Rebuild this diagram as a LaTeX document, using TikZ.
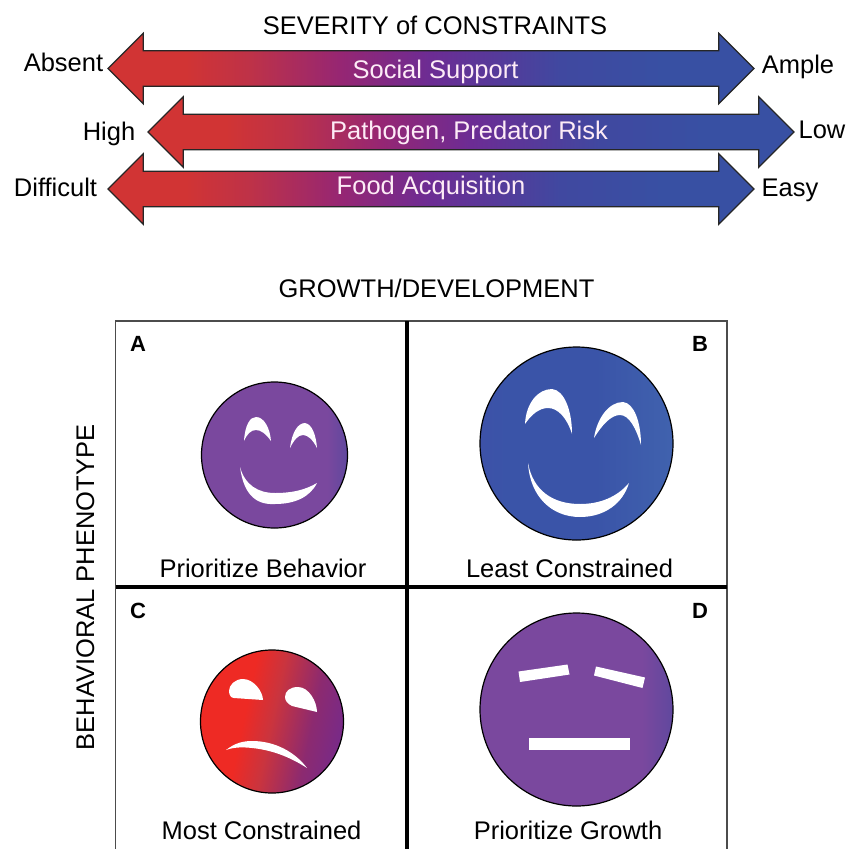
\documentclass[tikz,border=0pt]{standalone}
\usepackage{fontspec}
\setmainfont{Liberation Sans}
\usetikzlibrary{shapes.arrows}
\definecolor{arrowred}{RGB}{209,52,52}
\definecolor{arrowrose}{RGB}{190,50,72}
\definecolor{arrowplum}{RGB}{150,38,115}
\definecolor{arrowpurple}{RGB}{108,44,148}
\definecolor{arrowindigo}{RGB}{64,72,160}
\definecolor{arrowblue}{RGB}{56,80,163}
\definecolor{facepurple}{RGB}{122,72,158}
\definecolor{faceviolet}{RGB}{96,72,158}
\definecolor{faceindigo}{RGB}{72,72,168}
\definecolor{faceblue}{RGB}{58,84,168}
\definecolor{facesky}{RGB}{64,98,174}
\definecolor{facered}{RGB}{238,42,36}
\definecolor{facerose}{RGB}{202,52,62}
\definecolor{faceplum}{RGB}{140,42,112}
\definecolor{facegrape}{RGB}{120,42,136}
\pgfdeclarehorizontalshading{arrowgrad}{100bp}{color(0bp)=(arrowred);color(31bp)=(arrowred);color(36bp)=(arrowrose);color(43bp)=(arrowplum);color(50bp)=(arrowpurple);color(60bp)=(arrowindigo);color(68bp)=(arrowblue);color(100bp)=(arrowblue)}
\pgfdeclarehorizontalshading{shadeA}{100bp}{color(0bp)=(facepurple);color(68bp)=(facepurple);color(75bp)=(faceviolet);color(100bp)=(faceviolet)}
\pgfdeclarehorizontalshading{shadeB}{100bp}{color(0bp)=(faceindigo);color(32bp)=(faceblue);color(55bp)=(faceblue);color(75bp)=(facesky);color(100bp)=(facesky)}
\pgfdeclarehorizontalshading{shadeC}{100bp}{color(0bp)=(facered);color(40bp)=(facered);color(50bp)=(facerose);color(64bp)=(faceplum);color(75bp)=(facegrape);color(100bp)=(facegrape)}
\pgfdeclarehorizontalshading{shadeD}{100bp}{color(0bp)=(facepurple);color(67bp)=(facepurple);color(75bp)=(faceviolet);color(100bp)=(faceviolet)}
\begin{document}
\begin{tikzpicture}[
		x=1pt, y=-1pt,
		bigarrow/.style={double arrow, draw=black!85, line width=1.2pt, shading=arrowgrad, inner xsep=0pt, inner ysep=17.2pt, minimum height=646pt, double arrow head extend=17.5pt},
		face/.style={circle, draw=black, line width=1.2pt, inner sep=0pt},
		feat/.style={fill=white},
		lab/.style={anchor=base, font=\fontsize{25.5}{30}\selectfont},
		inlab/.style={lab, text=white!92!magenta},
		letter/.style={anchor=base, font=\fontsize{22}{26}\selectfont\bfseries}
		]
		\useasboundingbox (0,0) rectangle (849,849);
		
		% Heading and three arrows
		\node[lab] (severity) at (435,34) {SEVERITY of CONSTRAINTS};
		\node[bigarrow] (social) at (431,68.5) {};
		\node[bigarrow] (risk) at (471,132) {};
		\node[bigarrow] (food) at (431,189) {};
		
		\node[inlab] (sociallab) at (435.5,78) {Social Support};
		\node[inlab] (risklab) at (469,139) {Pathogen, Predator Risk};
		\node[inlab] (foodlab) at (431,194) {Food Acquisition};
		
		\node[lab] (absent) at (63.5,71) {Absent};
		\node[lab] (ample) at (798,73) {Ample};
		\node[lab] (high) at (109,140) {High};
		\node[lab] (low) at (822,138) {Low};
		\node[lab] (difficult) at (55.5,196) {Difficult};
		\node[lab] (easy) at (790,196) {Easy};
		
		% Panels
		\node[lab] (growth) at (436.5,297) {GROWTH/DEVELOPMENT};
		\node[lab, rotate=90] (behavior) at (94,587.5) {BEHAVIORAL PHENOTYPE};
		\draw[black!70, line width=1.8pt] (115.5,849) -- (115.5,321) -- (727,321) -- (727,849);
		\draw[black, line width=3.5pt] (407,321) -- (407,849);
		\draw[black, line width=3.5pt] (115.5,587) -- (727,587);
		
		\node[letter] (a) at (138,351.5) {A};
		\node[letter] (b) at (700,351.5) {B};
		\node[letter] (c) at (138,618) {C};
		\node[letter] (d) at (700,618) {D};
		
		% Panel A
		\node[face, shading=shadeA, minimum size=146pt] (faceA) at (274.5,455) {};
		\fill[feat] (244,441) .. controls (245,425) and (250,417) .. (256,417) .. controls (264,417) and (270,428) .. (271,441) .. controls (266,434) and (261,430) .. (256,430) .. controls (251,430) and (247,434) .. (244,441) -- cycle;
		\fill[feat] (290,448) .. controls (292,432) and (298,423) .. (305,423) .. controls (312,424) and (316,435) .. (317,448) .. controls (313,440) and (308,435) .. (303,435) .. controls (298,435) and (294,440) .. (290,448) -- cycle;
		\fill[feat] (240,467) .. controls (244,497) and (258,505) .. (275,504) .. controls (295,504) and (310,497) .. (317,483) .. controls (305,490) and (292,493) .. (275,493) .. controls (258,493) and (245,485) .. (240,467) -- cycle;
		\node[lab] (prbehavior) at (263,577) {Prioritize Behavior};
		
		% Panel B
		\node[face, shading=shadeB, minimum size=193pt] (faceB) at (576.5,443.5) {};
		\fill[feat] (525,424) .. controls (526,403) and (538,389) .. (552,389) .. controls (564,390) and (572,410) .. (572,434) .. controls (567,418) and (558,408) .. (548,408) .. controls (539,408) and (531,415) .. (525,424) -- cycle;
		\fill[feat] (594,438) .. controls (597,418) and (609,402) .. (623,402) .. controls (634,403) and (641,422) .. (641,445) .. controls (636,428) and (629,415) .. (620,415) .. controls (611,415) and (602,425) .. (594,438) -- cycle;
		\fill[feat] (528,463) .. controls (530,497) and (552,517) .. (580,517) .. controls (605,517) and (623,503) .. (629,483) .. controls (617,497) and (600,504) .. (580,504) .. controls (552,504) and (533,490) .. (528,463) -- cycle;
		\node[lab] (leastc) at (569.5,577) {Least Constrained};
		
		% Panel C
		\node[face, shading=shadeC, shading angle=-12, minimum size=143pt] (faceC) at (272,721.5) {};
		\fill[feat] (263,700) .. controls (263,692) and (254,679) .. (243,679) .. controls (235,679) and (229,685) .. (229,691) .. controls (229,695) and (231,698) .. (234,698) -- cycle;
		\fill[feat] (317,712) .. controls (317,702) and (309,687) .. (298,687) .. controls (290,687) and (285,691) .. (285,697) .. controls (285,701) and (288,704) .. (292,706) -- cycle;
		\fill[feat] (226,750) .. controls (235,743) and (243,741) .. (252,741) .. controls (275,741) and (295,752) .. (307,768) .. controls (290,757) and (272,750) .. (252,748) .. controls (243,747) and (234,747) .. (226,750) -- cycle;
		\node[lab] (mostc) at (261.5,839) {Most Constrained};
		
		% Panel D
		\node[face, shading=shadeD, minimum size=193pt] (faceD) at (576.5,709.5) {};
		\fill[feat] (518.5,671.5) -- (567.5,664.5) -- (569.5,674.5) -- (520,682) -- cycle;
		\fill[feat] (596,666.5) -- (645,677.5) -- (642.5,688) -- (594,675.5) -- cycle;
		\fill[feat] (529,737.5) rectangle (630,749.5);
		\node[lab] (prgrowth) at (568,839) {Prioritize Growth};
		
	\end{tikzpicture}
\end{document}
